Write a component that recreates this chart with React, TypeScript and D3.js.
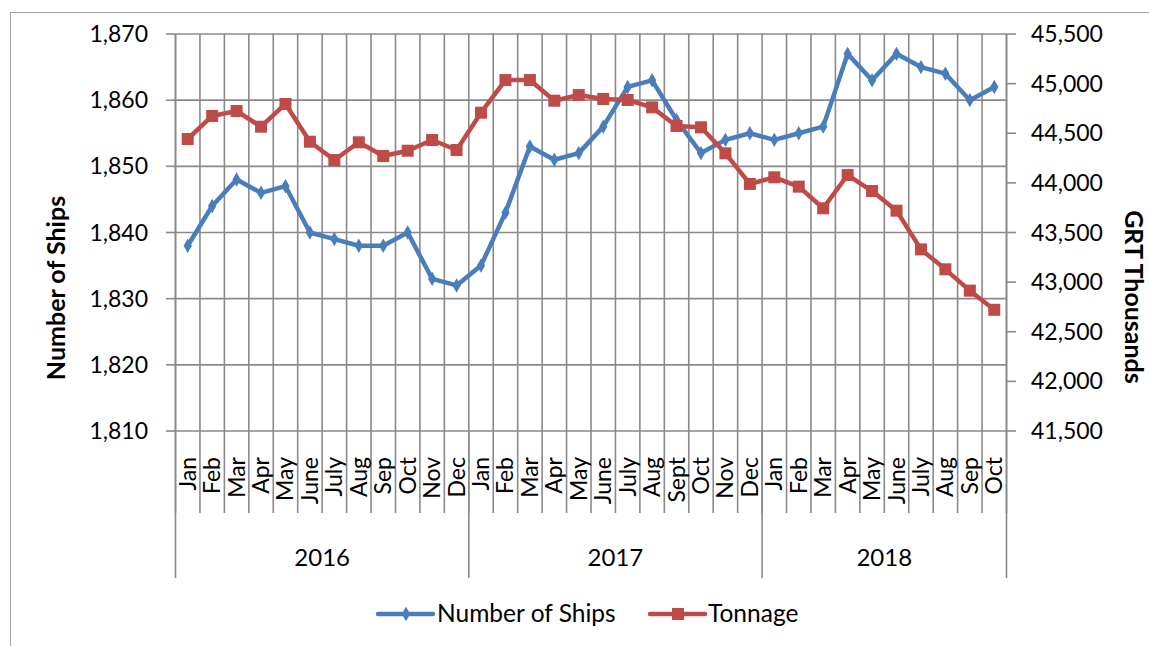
import * as d3 from "d3";

const months2016 = ["Jan", "Feb", "Mar", "Apr", "May", "June", "July", "Aug", "Sep", "Oct", "Nov", "Dec"];
const months2017 = ["Jan", "Feb", "Mar", "Apr", "May", "June", "July", "Aug", "Sept", "Oct", "Nov", "Dec"];
const months2018 = ["Jan", "Feb", "Mar", "Apr", "May", "June", "July", "Aug", "Sep", "Oct"];
const years = ["2016", "2017", "2018"];

const ships = [
  1838, 1844, 1848, 1846, 1847, 1840, 1839, 1838, 1838, 1840, 1833, 1832,
  1835, 1843, 1853, 1851, 1852, 1856, 1862, 1863, 1857, 1852, 1854, 1855,
  1854, 1855, 1856, 1867, 1863, 1867, 1865, 1864, 1860, 1862,
];
const tonnage = [
  44442, 44674, 44724, 44566, 44795, 44415, 44230, 44409, 44271, 44324, 44432, 44331,
  44707, 45036, 45036, 44828, 44885, 44845, 44835, 44761, 44573, 44560, 44298, 43989,
  44056, 43962, 43744, 44079, 43918, 43720, 43330, 43129, 42914, 42721,
];

const leftTicks = [1810, 1820, 1830, 1840, 1850, 1860, 1870];
const rightTicks = [41500, 42000, 42500, 43000, 43500, 44000, 44500, 45000, 45500];

const W = 1149;
const H = 646;
const left = 175.5;
const right = 1006.5;
const top = 34;
const bottom = 431;

const BLUE = "#4a7ebb";
const RED = "#be4b48";
const GRID = "#8a8a8a";
const FONT = "Lato, 'Open Sans', sans-serif";

export default function App() {
  const yearGroups = [months2016, months2017, months2018];
  const labels = yearGroups.flat();
  const idx = labels.map((_, i) => i);

  const x = d3.scaleBand<number>().domain(idx).range([left, right]);
  const bw = x.bandwidth();
  const cx = (i: number) => (x(i) as number) + bw / 2;
  const yL = d3.scaleLinear().domain([1810, 1870]).range([bottom, top]);
  const yR = d3.scaleLinear().domain([41500, 45500]).range([bottom, top]);

  const lineL = d3.line<number>().x((_, i) => cx(i)).y((d) => yL(d));
  const lineR = d3.line<number>().x((_, i) => cx(i)).y((d) => yR(d));

  // year boundaries
  const starts: number[] = [];
  let acc = 0;
  yearGroups.forEach((g) => {
    starts.push(acc);
    acc += g.length;
  });

  const fmt = d3.format(",");

  return (
    <svg width={W} height={H} style={{ position: "absolute", left: 0, top: 0, background: "#fff" }}>
      <rect x={10.5} y={12.5} width={1200} height={700} fill="none" stroke="#a0a0a0" strokeWidth={1} />

      {/* horizontal gridlines */}
      {leftTicks.map((t) => (
        <line key={"h" + t} x1={left} x2={right} y1={yL(t)} y2={yL(t)} stroke={GRID} strokeWidth={1.6} />
      ))}
      {/* vertical gridlines + month ticks */}
      {d3.range(labels.length + 1).map((i) => {
        const xx = i < labels.length ? (x(i) as number) : right;
        return (
          <g key={"v" + i}>
            <line x1={xx} x2={xx} y1={top} y2={bottom} stroke={GRID} strokeWidth={1.6} />
            <line x1={xx} x2={xx} y1={bottom} y2={513} stroke={GRID} strokeWidth={1.6} />
          </g>
        );
      })}
      {/* year dividers */}
      {[...starts, labels.length].map((s, i) => {
        const xx = s < labels.length ? (x(s) as number) : right;
        return <line key={"y" + i} x1={xx} x2={xx} y1={bottom} y2={578} stroke={GRID} strokeWidth={1.6} />;
      })}

      {/* left axis */}
      <line x1={left} x2={left} y1={top} y2={bottom} stroke={GRID} strokeWidth={1.6} />
      {leftTicks.map((t) => (
        <g key={"lt" + t}>
          <line x1={166} x2={left} y1={yL(t)} y2={yL(t)} stroke={GRID} strokeWidth={1.6} />
          <text x={148} y={yL(t)} dy="0.35em" textAnchor="end" fontFamily={FONT} fontSize={23} fill="#000">
            {fmt(t)}
          </text>
        </g>
      ))}
      {/* right axis */}
      <line x1={right} x2={right} y1={top} y2={bottom} stroke={GRID} strokeWidth={1.6} />
      {rightTicks.map((t) => (
        <g key={"rt" + t}>
          <line x1={right} x2={1016} y1={yR(t)} y2={yR(t)} stroke={GRID} strokeWidth={1.6} />
          <text x={1031} y={yR(t)} dy="0.35em" textAnchor="start" fontFamily={FONT} fontSize={23} fill="#000">
            {fmt(t)}
          </text>
        </g>
      ))}

      {/* month labels */}
      {labels.map((m, i) => (
        <text
          key={"m" + i}
          transform={`translate(${cx(i) + 8},457) rotate(-90)`}
          textAnchor="end"
          fontFamily={FONT}
          fontSize={23}
          fill="#000"
        >
          {m}
        </text>
      ))}
      {/* year labels */}
      {years.map((yv, i) => {
        const a = x(starts[i]) as number;
        const b = i + 1 < starts.length ? (x(starts[i + 1]) as number) : right;
        return (
          <text key={yv} x={(a + b) / 2} y={566} textAnchor="middle" fontFamily={FONT} fontSize={24} fill="#000">
            {yv}
          </text>
        );
      })}

      {/* axis titles */}
      <text
        transform="translate(65,288) rotate(-90)"
        textAnchor="middle"
        fontFamily={FONT}
        fontWeight="bold"
        fontSize={25}
        fill="#000"
      >
        Number of Ships
      </text>
      <text
        transform="translate(1125,297) rotate(90)"
        textAnchor="middle"
        fontFamily={FONT}
        fontWeight="bold"
        fontSize={25}
        fill="#000"
      >
        GRT Thousands
      </text>

      {/* series */}
      <path d={lineL(ships) || ""} fill="none" stroke={BLUE} strokeWidth={4.5} strokeLinejoin="round" />
      {ships.map((v, i) => (
        <path
          key={"d" + i}
          d={d3.symbol(d3.symbolDiamond, 60)() || ""}
          transform={`translate(${cx(i)},${yL(v)})`}
          fill={BLUE}
        />
      ))}
      <path d={lineR(tonnage) || ""} fill="none" stroke={RED} strokeWidth={4.5} strokeLinejoin="round" />
      {tonnage.map((v, i) => (
        <rect key={"s" + i} x={cx(i) - 6} y={yR(v) - 6} width={12} height={12} fill={RED} />
      ))}

      {/* legend */}
      <line x1={378} x2={433} y1={614} y2={614} stroke={BLUE} strokeWidth={4.5} strokeLinecap="round" />
      <path d={d3.symbol(d3.symbolDiamond, 60)() || ""} transform="translate(406,614)" fill={BLUE} />
      <text x={437} y={622} fontFamily={FONT} fontSize={24.5} fill="#000">
        Number of Ships
      </text>
      <line x1={650} x2={705} y1={614} y2={614} stroke={RED} strokeWidth={4.5} strokeLinecap="round" />
      <rect x={672} y={608} width={12} height={12} fill={RED} />
      <text x={708} y={622} fontFamily={FONT} fontSize={24.5} fill="#000">
        Tonnage
      </text>
    </svg>
  );
}
